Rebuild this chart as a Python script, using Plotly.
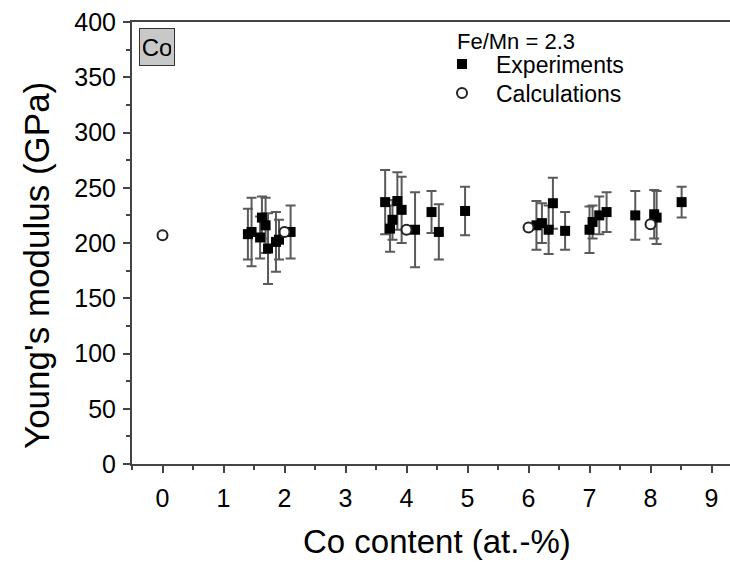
import plotly.graph_objects as go

# Experiments
exp_x = [1.40, 1.46, 1.60, 1.63, 1.69, 1.73, 1.86, 1.91, 2.10,
         3.65, 3.73, 3.77, 3.85, 3.92, 4.14, 4.41, 4.53, 4.96,
         6.13, 6.22, 6.33, 6.40, 6.60,
         7.00, 7.05, 7.16, 7.28, 7.75, 8.06, 8.10, 8.51]
exp_y = [208, 210, 205, 223, 216, 195, 201, 203, 210,
         237, 213, 221, 238, 230, 212, 228, 210, 229,
         216, 218, 212, 236, 211,
         212, 219, 225, 228, 225, 226, 223, 237]
exp_err = [23, 31, 19, 19, 25, 32, 27, 18, 24,
           29, 21, 18, 26, 30, 34, 19, 25, 22,
           22, 18, 22, 23, 17,
           21, 15, 17, 18, 22, 22, 24, 14]

# Calculations
calc_x = [0, 2, 4, 6, 8]
calc_y = [207, 210, 212, 214, 217]

x_ticks = [0, 1, 2, 3, 4, 5, 6, 7, 8, 9]
y_ticks = [0, 50, 100, 150, 200, 250, 300, 350, 400]

FONT = "Liberation Sans, Arial, sans-serif"
AX = "#444444"

# plot area: x from 132 px to 730 px, y from 22 px to 464 px
def px_x(p):
    return (p - 132) / 598.0

def px_y(p):
    return (464 - p) / 442.0

fig = go.Figure()
fig.add_trace(go.Scatter(
    x=exp_x, y=exp_y, mode="markers", name="Experiments", legend="legend",
    marker=dict(symbol="square", size=10, color="black"),
    error_y=dict(type="data", array=exp_err, visible=True,
                 color="#5a5a5a", thickness=2, width=5),
))
fig.add_trace(go.Scatter(
    x=calc_x, y=calc_y, mode="markers", name="Calculations", legend="legend2",
    marker=dict(symbol="circle", size=10, color="white",
                line=dict(color="#222222", width=2)),
))

leg_common = dict(xanchor="left", yanchor="middle", bgcolor="rgba(0,0,0,0)",
                  font=dict(size=23, family=FONT, color="black"), itemwidth=58)

fig.update_layout(
    width=730, height=562,
    margin=dict(l=132, r=0, t=22, b=98),
    paper_bgcolor="white", plot_bgcolor="white",
    font=dict(family=FONT, color="black"),
    showlegend=True,
    legend=dict(x=px_x(428), y=px_y(64), **leg_common),
    legend2=dict(x=px_x(428), y=px_y(93), **leg_common),
    xaxis=dict(
        range=[-0.5, 9.303], tickvals=x_ticks, ticktext=[str(v) for v in x_ticks],
        showgrid=False, zeroline=False,
        showline=True, linecolor=AX, linewidth=2, mirror=True,
        ticks="outside", ticklen=7, tickwidth=2, tickcolor=AX,
        tickfont=dict(size=25, family=FONT, color="black"),
        ticklabelstandoff=4,
        minor=dict(dtick=0.5, tick0=0, ticks="outside", ticklen=4, tickwidth=2, tickcolor=AX),
    ),
    yaxis=dict(
        range=[0, 400], tickvals=y_ticks, ticktext=[str(v) for v in y_ticks],
        showgrid=False, zeroline=False,
        showline=True, linecolor=AX, linewidth=2, mirror=False,
        ticks="outside", ticklen=7, tickwidth=2, tickcolor=AX,
        tickfont=dict(size=25, family=FONT, color="black"),
        ticklabelstandoff=2,
        minor=dict(dtick=25, tick0=0, ticks="outside", ticklen=4, tickwidth=2, tickcolor=AX),
    ),
    annotations=[
        dict(text="Co", xref="paper", yref="paper", x=px_x(139), y=px_y(28),
             xanchor="left", yanchor="top", showarrow=False,
             font=dict(size=24, family=FONT, color="black"),
             width=28, height=30,
             bgcolor="#c8c8c8", bordercolor="#333333", borderwidth=1, borderpad=3),
        dict(text="Fe/Mn = 2.3", xref="paper", yref="paper", x=px_x(455), y=px_y(42),
             xanchor="left", yanchor="middle", showarrow=False,
             font=dict(size=22, family=FONT, color="black")),
        dict(text="Co content (at.-%)", xref="paper", yref="paper",
             x=px_x(437), y=px_y(541), xanchor="center", yanchor="middle", showarrow=False,
             font=dict(size=33, family=FONT, color="black")),
        dict(text="Young's modulus (GPa)", xref="paper", yref="paper",
             x=px_x(36), y=px_y(266), xanchor="center", yanchor="middle", showarrow=False,
             textangle=-90, font=dict(size=35, family=FONT, color="black")),
    ],
)

fig.write_html("out.html")
